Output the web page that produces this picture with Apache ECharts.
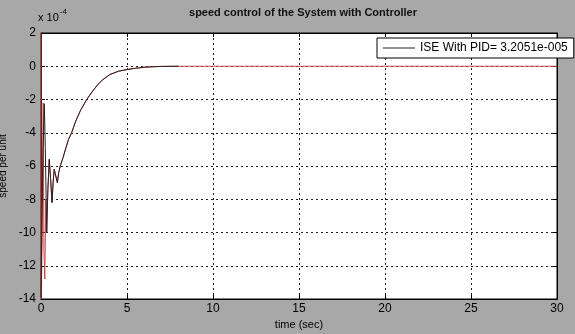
<!DOCTYPE html>
<html>
<head>
<meta charset="utf-8">
<script src="https://cdn.jsdelivr.net/npm/echarts@6/dist/echarts.min.js"></script>
<style>html,body{margin:0;padding:0;background:#a8a8a8;}#c{width:575px;height:334px;}</style>
</head>
<body>
<div id="c"></div>
<script>
// ---- data (time in sec, speed in units of 1e-4) ----
const xTicks = [0, 5, 10, 15, 20, 25, 30];
const yTicks = [-14, -12, -10, -8, -6, -4, -2, 0, 2];
// early oscillation of the black (PID) response
const blackEarlyT = [0, 0.06, 0.12, 0.19, 0.25, 0.33, 0.40, 0.48, 0.56, 0.64, 0.71, 0.77, 0.86, 0.95, 1.03, 1.12];
const blackEarlyV = [-13.9, -9.0, -5.0, -2.25, -4.9, -10.0, -7.4, -5.6, -6.8, -8.2, -6.9, -6.2, -6.6, -7.0, -6.4, -6.0];
// early spike of the red trace
const redEarlyT = [0, 0, 0.03, 0.08, 0.13, 0.17, 0.22, 0.28, 0.33];
const redEarlyV = [2, -14, -13.6, -8.0, -2.2, -11.0, -12.8, -8.0, -10.0];
// shared recovery towards zero
const recoverT = [1.28, 1.45, 1.6, 1.78, 2.0, 2.3, 2.66, 3.0, 3.3, 3.6, 4.0, 4.5, 5.0, 5.5, 6.0, 6.5, 7.0, 8.0];
const recoverV = [-5.5, -4.9, -4.4, -4.0, -3.35, -2.65, -2.0, -1.5, -1.1, -0.8, -0.5, -0.3, -0.2, -0.12, -0.06, -0.03, -0.01, 0];
// steady state of the red trace
const tailT = [8, 30];
const tailV = [0, 0];
const legendName = 'ISE With PID= 3.2051e-005';

function zip(t, v) { return t.map((x, i) => [x, v[i]]); }
const blackData = zip(blackEarlyT, blackEarlyV).concat(zip(recoverT, recoverV));
const redData = zip(redEarlyT, redEarlyV).concat(zip(blackEarlyT.slice(5), blackEarlyV.slice(5)), zip(recoverT, recoverV), zip(tailT, tailV));

const FONT = 'Liberation Sans';
const chart = echarts.init(document.getElementById('c'));
const dashed = { show: true, lineStyle: { color: '#222', width: 1, type: [2, 3] } };
const frameAxis = { show: true, onZero: false, lineStyle: { color: '#000' } };
chart.setOption({
  backgroundColor: '#a8a8a8',
  animation: false,
  title: {
    text: 'speed control of the System with Controller',
    left: 298, top: 2, textAlign: 'center',
    textStyle: { fontFamily: FONT, fontSize: 11, fontWeight: 'bold', color: '#111' }
  },
  legend: {
    data: [{ name: legendName, itemStyle: { color: '#2a2020' } }],
    left: 377, top: 38,
    width: 176, height: 20,
    padding: [4, 6, 4, 6],
    backgroundColor: '#fff', borderColor: '#000', borderWidth: 1, borderRadius: 0,
    icon: 'rect', itemWidth: 32, itemHeight: 1, itemGap: 4,
    textStyle: { fontFamily: FONT, fontSize: 12, color: '#000', padding: [0, 0, 0, 0] }
  },
  grid: { left: 41, right: 18, top: 33, bottom: 35, containLabel: false, outerBoundsMode: 'none', show: true, backgroundColor: '#fff', borderColor: '#000', borderWidth: 1 },
  xAxis: [{
    type: 'value', min: 0, max: 30, interval: 5,
    axisLine: frameAxis,
    axisTick: { show: true, inside: true, length: 4, lineStyle: { color: '#000' } },
    axisLabel: { fontFamily: FONT, fontSize: 12, color: '#000', margin: 4 },
    splitLine: dashed,
    name: 'time (sec)', nameLocation: 'middle', nameGap: 18,
    nameTextStyle: { fontFamily: FONT, fontSize: 11, color: '#000' }
  }, {
    type: 'value', min: 0, max: 30, interval: 5, position: 'top',
    axisLine: frameAxis,
    axisTick: { show: true, inside: true, length: 4, lineStyle: { color: '#000' } },
    axisLabel: { show: false }, splitLine: { show: false }
  }],
  yAxis: [{
    type: 'value', min: -14, max: 2, interval: 2,
    axisLine: frameAxis,
    axisTick: { show: true, inside: true, length: 4, lineStyle: { color: '#000' } },
    axisLabel: { fontFamily: FONT, fontSize: 12, color: '#000', margin: 5 },
    splitLine: dashed,
    name: 'speed per unit', nameLocation: 'middle', nameGap: 29, nameRotate: 90,
    nameTextStyle: { fontFamily: FONT, fontSize: 10, color: '#000' }
  }, {
    type: 'value', min: -14, max: 2, interval: 2, position: 'right',
    axisLine: frameAxis,
    axisTick: { show: true, inside: true, length: 4, lineStyle: { color: '#000' } },
    axisLabel: { show: false }, splitLine: { show: false }
  }],
  graphic: [{
    type: 'text', left: 38, top: 8,
    style: {
      text: '{a|x 10}{b|-4}',
      rich: {
        a: { fontFamily: FONT, fontSize: 11, fill: '#000', padding: [6, 0, 0, 0] },
        b: { fontFamily: FONT, fontSize: 8, fill: '#000', padding: [0, 0, 6, 1] }
      }
    }
  }],
  series: [{
    name: 'red', type: 'line', data: redData, showSymbol: false, symbol: 'none',
    lineStyle: { color: '#c84848', width: 1 }, z: 2, silent: true
  }, {
    name: legendName, type: 'line', data: blackData, showSymbol: false, symbol: 'none',
    itemStyle: { color: '#2a2020' },
    lineStyle: { color: '#2a2020', width: 1 }, z: 3
  }]
});
</script>
</body>
</html>
